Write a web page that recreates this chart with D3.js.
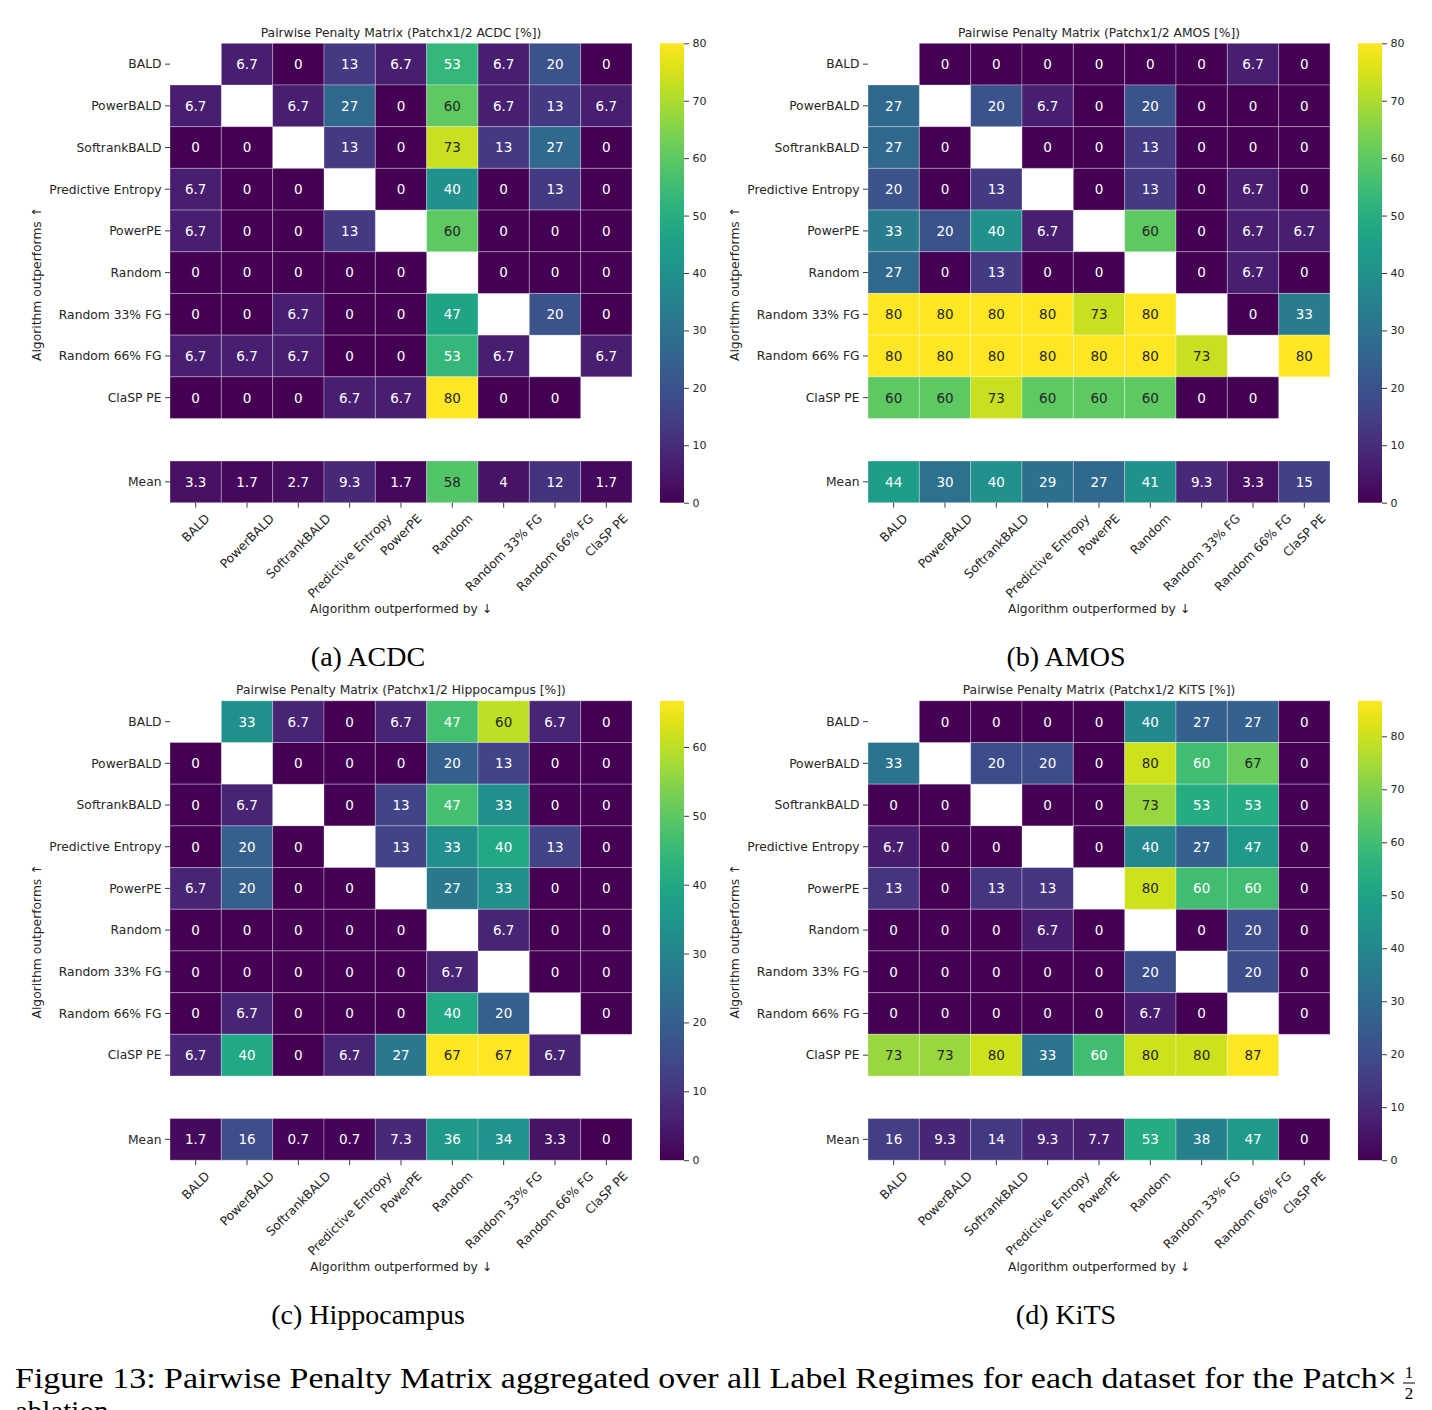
<!DOCTYPE html>
<html>
<head>
<meta charset="utf-8">
<script src="https://cdn.jsdelivr.net/npm/d3@7"></script>
<style>
    body { margin: 0; background: #fff; }
    svg { display: block; }
    text { font-family: "DejaVu Sans", sans-serif; fill: #262626; }
    text.serif { font-family: "Liberation Serif", "DejaVu Serif", serif; fill: #000; }
</style>
</head>
<body>
<svg id="figure" width="1432" height="1410"></svg>
<script>
var algorithms = ["BALD", "PowerBALD", "SoftrankBALD", "Predictive Entropy", "PowerPE",
    "Random", "Random 33% FG", "Random 66% FG", "ClaSP PE"];

var datasetNames = ["ACDC", "AMOS", "Hippocampus", "KiTS"];
var captions = ["(a) ACDC", "(b) AMOS", "(c) Hippocampus", "(d) KiTS"];

// rows: algorithm outperforms, columns: algorithm outperformed by (null = diagonal)
var acdcPenalty = [
    [null, 6.7, 0, 13.3, 6.7, 53.3, 6.7, 20, 0],
    [6.7, null, 6.7, 26.7, 0, 60, 6.7, 13.3, 6.7],
    [0, 0, null, 13.3, 0, 73.3, 13.3, 26.7, 0],
    [6.7, 0, 0, null, 0, 40, 0, 13.3, 0],
    [6.7, 0, 0, 13.3, null, 60, 0, 0, 0],
    [0, 0, 0, 0, 0, null, 0, 0, 0],
    [0, 0, 6.7, 0, 0, 46.7, null, 20, 0],
    [6.7, 6.7, 6.7, 0, 0, 53.3, 6.7, null, 6.7],
    [0, 0, 0, 6.7, 6.7, 80, 0, 0, null]
];
var acdcMean = [3.3, 1.7, 2.7, 9.3, 1.7, 58.3, 4, 11.7, 1.7];

var amosPenalty = [
    [null, 0, 0, 0, 0, 0, 0, 6.7, 0],
    [26.7, null, 20, 6.7, 0, 20, 0, 0, 0],
    [26.7, 0, null, 0, 0, 13.3, 0, 0, 0],
    [20, 0, 13.3, null, 0, 13.3, 0, 6.7, 0],
    [33.3, 20, 40, 6.7, null, 60, 0, 6.7, 6.7],
    [26.7, 0, 13.3, 0, 0, null, 0, 6.7, 0],
    [80, 80, 80, 80, 73.3, 80, null, 0, 33.3],
    [80, 80, 80, 80, 80, 80, 73.3, null, 80],
    [60, 60, 73.3, 60, 60, 60, 0, 0, null]
];
var amosMean = [44.2, 30, 40, 29.2, 26.7, 40.8, 9.3, 3.3, 15];

var hippocampusPenalty = [
    [null, 33.3, 6.7, 0, 6.7, 46.7, 60, 6.7, 0],
    [0, null, 0, 0, 0, 20, 13.3, 0, 0],
    [0, 6.7, null, 0, 13.3, 46.7, 33.3, 0, 0],
    [0, 20, 0, null, 13.3, 33.3, 40, 13.3, 0],
    [6.7, 20, 0, 0, null, 26.7, 33.3, 0, 0],
    [0, 0, 0, 0, 0, null, 6.7, 0, 0],
    [0, 0, 0, 0, 0, 6.7, null, 0, 0],
    [0, 6.7, 0, 0, 0, 40, 20, null, 0],
    [6.7, 40, 0, 6.7, 26.7, 66.7, 66.7, 6.7, null]
];
var hippocampusMean = [1.7, 15.8, 0.7, 0.7, 7.3, 35.8, 34.2, 3.3, 0];

var kitsPenalty = [
    [null, 0, 0, 0, 0, 40, 26.7, 26.7, 0],
    [33.3, null, 20, 20, 0, 80, 60, 66.7, 0],
    [0, 0, null, 0, 0, 73.3, 53.3, 53.3, 0],
    [6.7, 0, 0, null, 0, 40, 26.7, 46.7, 0],
    [13.3, 0, 13.3, 13.3, null, 80, 60, 60, 0],
    [0, 0, 0, 6.7, 0, null, 0, 20, 0],
    [0, 0, 0, 0, 0, 20, null, 20, 0],
    [0, 0, 0, 0, 0, 6.7, 0, null, 0],
    [73.3, 73.3, 80, 33.3, 60, 80, 80, 86.7, null]
];
var kitsMean = [15.8, 9.3, 14.2, 9.3, 7.7, 53.3, 37.5, 46.7, 0];

var figureCaption = "Figure 13: Pairwise Penalty Matrix aggregated over all Label Regimes for each dataset for the Patch\u00d7";

var PenaltyFigure;
(function (PenaltyFigure) {
    var HeatmapPanel = (function () {
        function HeatmapPanel(svg, originX, originY, name, caption, matrix, means) {
            this.g = svg.append("g").attr("transform", "translate(" + originX + "," + originY + ")");
            this.name = name;
            this.caption = caption;
            this.matrix = matrix;
            this.means = means;
            this.vmax = d3.max(matrix, function (row) { return d3.max(row); });
            this.colour = d3.scaleSequential(d3.interpolateViridis).domain([0, this.vmax]);
            this.x = d3.scaleBand().domain(algorithms).range([170, 632]);
            this.y = d3.scaleBand().domain(algorithms).range([43.3, 418.5]);
            this.meanTop = 461;
            this.meanBottom = 502.7;
            this.draw();
        }

        HeatmapPanel.prototype.draw = function () {
            this.drawCells();
            this.drawAxes();
            this.drawColorbar();
            this.drawLabels();
        };

        HeatmapPanel.prototype.cellGroup = function (cells, w, h) {
            var _this = this;
            cells.append("rect")
                .attr("width", w).attr("height", h)
                .attr("fill", function (d) { return _this.colour(d.v); })
                .attr("stroke", "rgba(255,255,255,0.3)").attr("stroke-width", 1);
            cells.append("text")
                .attr("x", w / 2).attr("y", h / 2).attr("dy", "0.36em")
                .attr("text-anchor", "middle")
                .style("font-size", "13.5px")
                .style("fill", function (d) { return HeatmapPanel.textColour(_this.colour(d.v)); })
                .text(function (d) { return d3.format(".2~g")(d.v); });
        };

        HeatmapPanel.prototype.drawCells = function () {
            var _this = this;
            var cells = [];
            this.matrix.forEach(function (row, i) {
                row.forEach(function (v, j) {
                    if (v !== null) cells.push({ row: algorithms[i], col: algorithms[j], v: v });
                });
            });
            var main = this.g.selectAll("g.cell").data(cells).enter().append("g")
                .attr("class", "cell")
                .attr("transform", function (d) { return "translate(" + _this.x(d.col) + "," + _this.y(d.row) + ")"; });
            this.cellGroup(main, this.x.bandwidth(), this.y.bandwidth());

            var meanCells = this.means.map(function (v, j) { return { col: algorithms[j], v: v }; });
            var mean = this.g.selectAll("g.mean").data(meanCells).enter().append("g")
                .attr("class", "mean")
                .attr("transform", function (d) { return "translate(" + _this.x(d.col) + "," + _this.meanTop + ")"; });
            this.cellGroup(mean, this.x.bandwidth(), this.meanBottom - this.meanTop);
        };

        HeatmapPanel.prototype.drawAxes = function () {
            var _this = this;
            var rows = algorithms.map(function (a) { return { label: a, cy: _this.y(a) + _this.y.bandwidth() / 2 }; });
            rows.push({ label: "Mean", cy: (this.meanTop + this.meanBottom) / 2 });

            var yTicks = this.g.selectAll("g.ytick").data(rows).enter().append("g")
                .attr("transform", function (d) { return "translate(170," + d.cy + ")"; });
            yTicks.append("line").attr("x1", -5).attr("x2", 0).attr("stroke", "#262626").attr("stroke-width", 0.9);
            yTicks.append("text").attr("x", -8.5).attr("dy", "0.35em")
                .attr("text-anchor", "end").style("font-size", "12.3px")
                .text(function (d) { return d.label; });

            var bottom = this.meanBottom;
            var xTicks = this.g.selectAll("g.xtick").data(algorithms).enter().append("g")
                .attr("transform", function (d) { return "translate(" + (_this.x(d) + _this.x.bandwidth() / 2) + "," + bottom + ")"; });
            xTicks.append("line").attr("y1", 0).attr("y2", 5).attr("stroke", "#262626").attr("stroke-width", 0.9);
            xTicks.append("text")
                .attr("text-anchor", "middle").attr("dy", "0.35em")
                .style("font-size", "12.3px")
                .text(function (d) { return d; })
                .each(function () {
                    var w = this.getComputedTextLength();
                    var side = (w + 14.3) / Math.SQRT2;
                    d3.select(this).attr("transform", "translate(0," + (8.5 + side / 2) + ") rotate(-45)");
                });
        };

        HeatmapPanel.prototype.drawColorbar = function () {
            var scale = d3.scaleLinear().domain([0, this.vmax]).range([502.7, 43.3]);
            this.g.append("rect")
                .attr("x", 660).attr("y", 43.3).attr("width", 24).attr("height", 502.7 - 43.3)
                .attr("fill", "url(#viridis)");
            var axis = d3.axisRight(scale)
                .tickValues(d3.range(0, this.vmax + 0.01, 10))
                .tickFormat(d3.format("d"))
                .tickSize(5).tickPadding(3.5);
            var ax = this.g.append("g").attr("transform", "translate(684,0)").call(axis);
            ax.select(".domain").remove();
            ax.selectAll("line").attr("stroke", "#262626").attr("stroke-width", 0.9);
            ax.selectAll("text").style("font-size", "11px").style("font-family", "DejaVu Sans").attr("fill", "#262626");
        };

        HeatmapPanel.prototype.drawLabels = function () {
            this.g.append("text")
                .attr("x", 401).attr("y", 36.5).attr("text-anchor", "middle")
                .style("font-size", "12.3px")
                .text("Pairwise Penalty Matrix (Patchx1/2 " + this.name + " [%])");
            this.g.append("text")
                .attr("x", 401).attr("y", 613).attr("text-anchor", "middle")
                .style("font-size", "12.3px")
                .text("Algorithm outperformed by \u2193");
            this.g.append("text")
                .attr("transform", "translate(41,284) rotate(-90)").attr("text-anchor", "middle")
                .style("font-size", "12.3px")
                .text("Algorithm outperforms \u2191");
            this.g.append("text").attr("class", "serif")
                .attr("x", 368).attr("y", 666).attr("text-anchor", "middle")
                .style("font-size", "28px")
                .text(this.caption);
        };

        HeatmapPanel.textColour = function (fill) {
            var c = d3.rgb(fill);
            var ch = [c.r, c.g, c.b].map(function (v) {
                v = v / 255;
                return v <= 0.03928 ? v / 12.92 : Math.pow((v + 0.055) / 1.055, 2.4);
            });
            var lum = 0.2126 * ch[0] + 0.7152 * ch[1] + 0.0722 * ch[2];
            return lum > 0.408 ? "#262626" : "#ffffff";
        };
        return HeatmapPanel;
    })();
    PenaltyFigure.HeatmapPanel = HeatmapPanel;

    PenaltyFigure.build = function () {
        var svg = d3.select("#figure");
        var grad = svg.append("defs").append("linearGradient")
            .attr("id", "viridis").attr("x1", 0).attr("y1", 1).attr("x2", 0).attr("y2", 0);
        d3.range(0, 1.0001, 0.05).forEach(function (t) {
            grad.append("stop").attr("offset", t).attr("stop-color", d3.interpolateViridis(t));
        });

        var matrices = [acdcPenalty, amosPenalty, hippocampusPenalty, kitsPenalty];
        var means = [acdcMean, amosMean, hippocampusMean, kitsMean];
        var origins = [[0, 0], [698, 0], [0, 657.5], [698, 657.5]];
        for (var i = 0; i < 4; i++) {
            new HeatmapPanel(svg, origins[i][0], origins[i][1], datasetNames[i], captions[i], matrices[i], means[i]);
        }

        svg.append("text").attr("class", "serif")
            .attr("x", 15).attr("y", 1388)
            .attr("textLength", 1382).attr("lengthAdjust", "spacingAndGlyphs")
            .style("font-size", "29px")
            .text(figureCaption);
        svg.append("text").attr("class", "serif")
            .attr("x", 1409).attr("y", 1378).attr("text-anchor", "middle")
            .style("font-size", "17px").text("1");
        svg.append("line").attr("x1", 1403).attr("x2", 1415).attr("y1", 1383).attr("y2", 1383)
            .attr("stroke", "#000").attr("stroke-width", 1);
        svg.append("text").attr("class", "serif")
            .attr("x", 1409).attr("y", 1399).attr("text-anchor", "middle")
            .style("font-size", "17px").text("2");
        svg.append("text").attr("class", "serif")
            .attr("x", 15).attr("y", 1421)
            .style("font-size", "29px")
            .text("ablation");
    };
})(PenaltyFigure || (PenaltyFigure = {}));

PenaltyFigure.build();
</script>
</body>
</html>
